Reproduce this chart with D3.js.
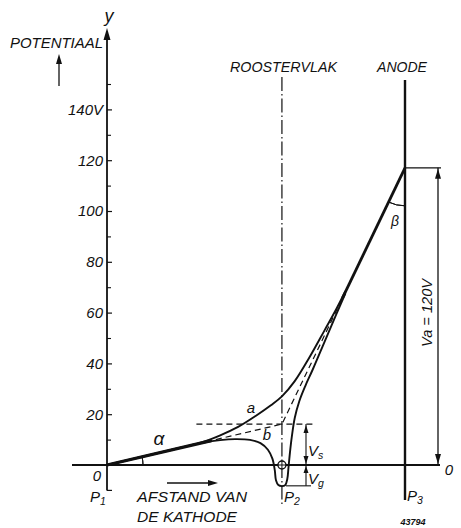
<!DOCTYPE html>
<html><head><meta charset="utf-8">
<script src="https://cdn.jsdelivr.net/npm/d3@7"></script>
<style>
html,body{margin:0;padding:0;background:#fff;}
svg{display:block;}
text{font-family:"Liberation Sans",Arial,sans-serif;font-style:italic;fill:#111;}
</style></head>
<body>
<svg id="chart" width="461" height="528"></svg>
<script>
// ---------- data ----------
const majorTicks = [20, 40, 60, 80, 100, 120, 140];
const majorLabels = ["20", "40", "60", "80", "100", "120", "140V"];
const minorTicks = [10, 30, 50, 70, 90, 110, 130, 150];
const cathodeX = 0, gridX = 5.87, anodeX = 10;
const anodeV = 117;          // drawn anode potential (Va = 120V)
const gridV = 16.1;          // Vs
const gridWireV = -8.2;      // Vg
// straight-line potential b: cathode -> grid point -> anode
const lineB = [[0, 0], [5.87, 16.1], [10, 117]];
// curve a
const curveA = [[0, 0], [2.5, 6.9], [3.2, 9.0], [3.8, 11.7], [4.4, 15.0], [5.0, 19.4], [5.5, 23.5],
  [5.87, 27], [6.3, 33], [6.8, 42.5], [7.3, 53], [7.7, 61.5], [8.0, 68.4]];
// actual potential with negative grid (dip)
const curveDip = [[0, 0], [2.5, 6.9], [3.2, 8.7], [3.8, 9.8], [4.3, 10.2], [4.8, 9.9], [5.15, 8.6],
  [5.4, 6.0], [5.55, 2.5], [5.63, -2], [5.67, -6], [5.75, -7.9], [5.87, -8.3], [5.98, -7.9],
  [6.05, -5.5], [6.09, -1], [6.14, 5], [6.2, 11], [6.3, 18.5], [6.45, 25], [6.65, 31],
  [6.9, 37.5], [7.3, 48.5], [7.7, 59.5], [8.0, 67.6]];

// ---------- scales ----------
const svg = d3.select("#chart");
const x = d3.scaleLinear().domain([0, 10]).range([107, 405]);
const y = d3.scaleLinear().domain([0, 100]).range([465, 211]);
const lineGen = d3.line().x(d => x(d[0])).y(d => y(d[1]));
const bAt = v => { // value on line b at x=v
  if (v <= lineB[1][0]) return lineB[0][1] + (lineB[1][1] - lineB[0][1]) * (v - lineB[0][0]) / (lineB[1][0] - lineB[0][0]);
  return lineB[1][1] + (lineB[2][1] - lineB[1][1]) * (v - lineB[1][0]) / (lineB[2][0] - lineB[1][0]);
};
const ink = "#111";

function arrowHead(px, py, dir, len = 9, w = 3) { // dir: "up","down","right"
  let pts;
  if (dir === "up") pts = [[px, py], [px - w, py + len], [px + w, py + len]];
  else if (dir === "down") pts = [[px, py], [px - w, py - len], [px + w, py - len]];
  else pts = [[px, py], [px - len, py - w], [px - len, py + w]];
  svg.append("path").attr("d", "M" + pts.map(p => p.join(",")).join("L") + "Z").attr("fill", ink);
}

// ---------- y axis ----------
svg.append("line").attr("x1", x(0)).attr("x2", x(0)).attr("y1", y(-10)).attr("y2", 38)
  .attr("stroke", ink).attr("stroke-width", 1.8);
arrowHead(x(0), 28, "up", 12, 3.5);
svg.append("line").attr("x1", x(0)).attr("x2", x(0) + 5).attr("y1", y(-10)).attr("y2", y(-10)).attr("stroke", ink).attr("stroke-width", 1.2);

const axisMajor = d3.axisLeft(y).tickValues(majorTicks).tickSizeInner(-5).tickSizeOuter(0).tickPadding(4)
  .tickFormat((d, i) => majorLabels[i]);
const gA = svg.append("g").attr("transform", `translate(${x(0)},0)`).call(axisMajor);
gA.select(".domain").remove();
gA.selectAll("line").attr("stroke", ink).attr("stroke-width", 1.2);
gA.selectAll("text").attr("font-size", 15).attr("fill", ink)
  .style("font-family", "'Liberation Sans',Arial,sans-serif").style("font-style", "italic");
const axisMinor = d3.axisRight(y).tickValues(minorTicks).tickSizeInner(4).tickSizeOuter(0).tickFormat("");
const gB = svg.append("g").attr("transform", `translate(${x(0)},0)`).call(axisMinor);
gB.select(".domain").remove();
gB.selectAll("line").attr("stroke", ink).attr("stroke-width", 1.1);

// zero line
svg.append("line").attr("x1", 72).attr("x2", 440).attr("y1", y(0)).attr("y2", y(0))
  .attr("stroke", ink).attr("stroke-width", 2);

// grid plane (dash-dot)
svg.append("line").attr("x1", x(gridX)).attr("x2", x(gridX)).attr("y1", 77).attr("y2", 507)
  .attr("stroke", ink).attr("stroke-width", 1.2).attr("stroke-dasharray", "14,3,1.5,3");
// anode
svg.append("line").attr("x1", x(anodeX)).attr("x2", x(anodeX)).attr("y1", 80).attr("y2", 500)
  .attr("stroke", ink).attr("stroke-width", 2.4);

// grid wire circle
svg.append("circle").attr("cx", x(gridX)).attr("cy", y(0)).attr("r", 4)
  .attr("fill", "#fff").attr("stroke", ink).attr("stroke-width", 1.4);
svg.append("line").attr("x1", x(gridX)).attr("x2", x(gridX)).attr("y1", y(0) - 4).attr("y2", y(0) + 4).attr("stroke", ink).attr("stroke-width", 1);
svg.append("line").attr("x1", x(gridX) - 4).attr("x2", x(gridX) + 4).attr("y1", y(0)).attr("y2", y(0)).attr("stroke", ink).attr("stroke-width", 1);

// horizontal dashed line at Vs
svg.append("line").attr("x1", x(3.0)).attr("x2", 313).attr("y1", y(gridV)).attr("y2", y(gridV))
  .attr("stroke", ink).attr("stroke-width", 1.2).attr("stroke-dasharray", "6,4");
// line b dashed (cathode->grid, grid->anode)
svg.append("path").attr("d", lineGen([[3.0, bAt(3.0)], lineB[1], [7.9, bAt(7.9)]]))
  .attr("fill", "none").attr("stroke", ink).attr("stroke-width", 1.2).attr("stroke-dasharray", "6,4");

// curve a
svg.append("path").attr("d", lineGen.curve(d3.curveCatmullRom)(curveA))
  .attr("fill", "none").attr("stroke", ink).attr("stroke-width", 1.9);
// dip curve
svg.append("path").attr("d", lineGen.curve(d3.curveCatmullRom.alpha(0.5))(curveDip))
  .attr("fill", "none").attr("stroke", ink).attr("stroke-width", 1.9);
lineGen.curve(d3.curveLinear);

// thick alpha line & thick merged line to anode
svg.append("path").attr("d", lineGen([[0, 0], [3.5, bAt(3.5)]]))
  .attr("fill", "none").attr("stroke", ink).attr("stroke-width", 3.2);
svg.append("path").attr("d", lineGen([[7.9, bAt(7.9)], [10, anodeV]]))
  .attr("fill", "none").attr("stroke", ink).attr("stroke-width", 2.8);

// alpha arc
const angA = Math.atan2(y(0) - y(bAt(3)), x(3) - x(0));
svg.append("path").attr("d", d3.arc()({innerRadius: 36, outerRadius: 36, startAngle: Math.PI / 2 - angA, endAngle: Math.PI / 2}))
  .attr("transform", `translate(${x(0)},${y(0)})`).attr("fill", "none").attr("stroke", ink).attr("stroke-width", 1);
// beta arc
const angB = Math.atan2(y(bAt(9)) - y(anodeV), x(10) - x(9));
svg.append("path").attr("d", d3.arc()({innerRadius: 38, outerRadius: 38, startAngle: Math.PI, endAngle: Math.PI + (Math.PI / 2 - angB)}))
  .attr("transform", `translate(${x(anodeX)},${y(anodeV)})`).attr("fill", "none").attr("stroke", ink).attr("stroke-width", 1);

// Va dimension
svg.append("line").attr("x1", x(anodeX)).attr("x2", 441).attr("y1", y(anodeV)).attr("y2", y(anodeV)).attr("stroke", ink).attr("stroke-width", 1.3);
svg.append("line").attr("x1", 438).attr("x2", 438).attr("y1", y(anodeV)).attr("y2", y(0)).attr("stroke", ink).attr("stroke-width", 1.3);
arrowHead(438, y(anodeV) + 1, "up", 10, 3);
arrowHead(438, y(0) - 1, "down", 10, 3);

// Vs / Vg dimension
const dx = 306;
svg.append("line").attr("x1", dx).attr("x2", dx).attr("y1", y(gridV)).attr("y2", y(gridWireV)).attr("stroke", ink).attr("stroke-width", 1.1);
arrowHead(dx, y(gridV) + 1, "up", 8, 2.5);
arrowHead(dx, y(0) - 1, "down", 8, 2.5);
arrowHead(dx, y(0) + 1, "up", 7, 2.5);
svg.append("line").attr("x1", 286).attr("x2", 311).attr("y1", y(gridWireV)).attr("y2", y(gridWireV)).attr("stroke", ink).attr("stroke-width", 1.1);

// distance arrow
svg.append("line").attr("x1", 167).attr("x2", 210).attr("y1", 483).attr("y2", 483).attr("stroke", ink).attr("stroke-width", 1.3);
arrowHead(218, 483, "right", 10, 3);
// potentiaal arrow
svg.append("line").attr("x1", 59).attr("x2", 59).attr("y1", 86).attr("y2", 62).attr("stroke", ink).attr("stroke-width", 1.3);
arrowHead(59, 54, "up", 10, 3);

// ---------- texts ----------
function txt(t, px, py, size, opts = {}) {
  const e = svg.append("text").attr("x", px).attr("y", py).attr("font-size", size)
    .attr("text-anchor", opts.anchor || "start").text(t);
  if (opts.len) e.attr("textLength", opts.len).attr("lengthAdjust", "spacingAndGlyphs");
  if (opts.weight) e.attr("font-weight", opts.weight);
  return e;
}
txt("y", 109, 22, 18, {anchor: "middle"});
txt("POTENTIAAL", 10, 48, 14, {len: 93});
txt("ROOSTERVLAK", 230, 72, 15, {len: 107});
txt("ANODE", 377, 72, 15, {len: 50});
txt("0", 97, 481, 15, {anchor: "middle"});
txt("0", 449, 475, 15, {anchor: "middle"});
txt("AFSTAND VAN", 137, 502, 15, {len: 110});
txt("DE KATHODE", 137, 522, 15, {len: 100});
txt("43794", 413, 525, 9, {anchor: "middle", weight: "bold"});
txt("α", 159, 445, 19, {anchor: "middle"});
txt("a", 251, 413, 15, {anchor: "middle"});
txt("b", 267, 440, 15, {anchor: "middle"});
txt("β", 395, 226, 14, {anchor: "middle"});

function sub(main, s, px, py, size) {
  const e = svg.append("text").attr("x", px).attr("y", py).attr("font-size", size);
  e.append("tspan").text(main);
  e.append("tspan").attr("font-size", size * 0.7).attr("dy", 3).text(s);
}
sub("P", "1", 90, 502, 15);
sub("P", "2", 284, 502, 15);
sub("P", "3", 407, 501, 15);
sub("V", "s", 308, 456, 15);
sub("V", "g", 308, 484, 15);

svg.append("text").attr("transform", "translate(432,313) rotate(-90)").attr("font-size", 14)
  .attr("text-anchor", "middle").attr("textLength", 68).attr("lengthAdjust", "spacingAndGlyphs").text("Va = 120V");
</script>
</body></html>
